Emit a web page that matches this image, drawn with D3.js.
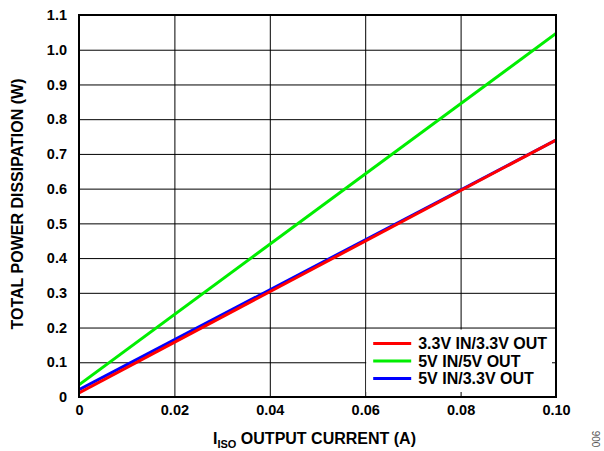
<!DOCTYPE html>
<html>
<head>
<meta charset="utf-8">
<script src="https://cdn.jsdelivr.net/npm/d3@7"></script>
<style>
  body { margin: 0; background: #fff; }
  text { font-family: Arial, "Liberation Sans", sans-serif; font-weight: bold; }
</style>
</head>
<body>
<div id="chart"></div>
<script>
// Chart data
var currentA = [0, 0.1];
var red33 = [0.012, 0.74];    // 3.3V IN/3.3V OUT
var green5 = [0.035, 1.047];  // 5V IN/5V OUT
var blue53 = [0.021, 0.74];   // 5V IN/3.3V OUT
var xTicks = [0, 0.02, 0.04, 0.06, 0.08, 0.10];
var xTickLabels = ["0", "0.02", "0.04", "0.06", "0.08", "0.10"];
var yTicks = [0, 0.1, 0.2, 0.3, 0.4, 0.5, 0.6, 0.7, 0.8, 0.9, 1.0, 1.1];
var yTickLabels = ["0", "0.1", "0.2", "0.3", "0.4", "0.5", "0.6", "0.7", "0.8", "0.9", "1.0", "1.1"];
var seriesNames = ["3.3V IN/3.3V OUT", "5V IN/5V OUT", "5V IN/3.3V OUT"];
var seriesColors = ["#ff0000", "#00ee00", "#0000ff"];

var svgWidth = 604;
var svgHeight = 451;
var margin = { top: 15, right: 48, bottom: 54, left: 79 };
var chartWidth = svgWidth - margin.left - margin.right;
var chartHeight = svgHeight - margin.top - margin.bottom;

var svg = d3.select("#chart")
  .append("svg")
    .attr("width", svgWidth)
    .attr("height", svgHeight)
  .append("g")
    .attr("transform", `translate(${margin.left}, ${margin.top})`);

var x = d3.scaleLinear().domain([0, 0.1]).range([0, chartWidth]);
var y = d3.scaleLinear().domain([0, 1.1]).range([chartHeight, 0]);

// grid
svg.append("g")
  .call(d3.axisBottom(x).tickValues(xTicks).tickSize(-chartHeight).tickFormat(""))
  .attr("transform", `translate(0, ${chartHeight})`)
  .call(g => g.select(".domain").remove())
  .selectAll("line").attr("stroke", "#000").attr("stroke-width", 1);

svg.append("g")
  .call(d3.axisLeft(y).tickValues(yTicks).tickSize(-chartWidth).tickFormat(""))
  .call(g => g.select(".domain").remove())
  .selectAll("line").attr("stroke", "#000").attr("stroke-width", 1);

// legend background hides grid
var legX = x(0.06) + 1;
var legY = y(0.2) + 2;
svg.append("rect")
  .attr("x", legX)
  .attr("y", legY)
  .attr("width", chartWidth - legX - 4)
  .attr("height", chartHeight - legY - 5)
  .attr("fill", "#fff");

// tick labels
svg.append("g")
  .attr("transform", `translate(0, ${chartHeight})`)
  .call(d3.axisBottom(x).tickValues(xTicks).tickSize(0).tickPadding(8)
    .tickFormat((d, i) => xTickLabels[i]))
  .call(g => g.select(".domain").remove())
  .selectAll("text").style("font-size", "14.5px").attr("fill", "#000");

svg.append("g")
  .call(d3.axisLeft(y).tickValues(yTicks).tickSize(0).tickPadding(12)
    .tickFormat((d, i) => yTickLabels[i]))
  .call(g => g.select(".domain").remove())
  .selectAll("text").style("font-size", "14.5px").attr("fill", "#000");

// lines
var line = d3.line()
  .x((d, i) => x(currentA[i]))
  .y(d => y(d));

svg.append("defs").append("clipPath").attr("id", "clip")
  .append("rect").attr("width", chartWidth).attr("height", chartHeight);

var order = [[green5, 1], [blue53, 2], [red33, 0]];
order.forEach(function(s) {
  svg.append("path")
    .datum(s[0])
    .attr("d", line)
    .attr("clip-path", "url(#clip)")
    .attr("fill", "none")
    .attr("stroke", seriesColors[s[1]])
    .attr("stroke-width", 3);
});

// frame
svg.append("rect")
  .attr("width", chartWidth)
  .attr("height", chartHeight)
  .attr("fill", "none")
  .attr("stroke", "#000")
  .attr("stroke-width", 2);

// legend
var legend = svg.selectAll(".legend")
  .data(seriesNames)
  .enter()
  .append("g")
    .attr("transform", (d, i) => `translate(${legX + 7}, ${legY + 14 + i * 17.5})`);

legend.append("line")
  .attr("x1", 0).attr("x2", 38)
  .attr("stroke", (d, i) => seriesColors[i])
  .attr("stroke-width", 3);

legend.append("text")
  .attr("x", 45)
  .attr("dy", "0.36em")
  .style("font-size", "16px")
  .text(d => d);

// axis titles
var xTitle = svg.append("text")
  .attr("x", chartWidth / 2 - 3)
  .attr("y", chartHeight + 47)
  .attr("text-anchor", "middle")
  .style("font-size", "16px");
xTitle.append("tspan").text("I");
xTitle.append("tspan").attr("dy", 4).style("font-size", "11px").text("ISO");
xTitle.append("tspan").attr("dy", -4).text(" OUTPUT CURRENT (A)");

svg.append("text")
  .attr("transform", `translate(${-56}, ${chartHeight / 2 - 2}) rotate(-90)`)
  .attr("text-anchor", "middle")
  .style("font-size", "16px")
  .text("TOTAL POWER DISSIPATION (W)");

// figure number
svg.append("text")
  .attr("transform", `translate(${svgWidth - margin.left - 4}, ${chartHeight + 42}) rotate(-90)`)
  .attr("text-anchor", "middle")
  .style("font-size", "10px")
  .style("font-weight", "normal")
  .attr("fill", "#555")
  .text("006");
</script>
</body>
</html>
